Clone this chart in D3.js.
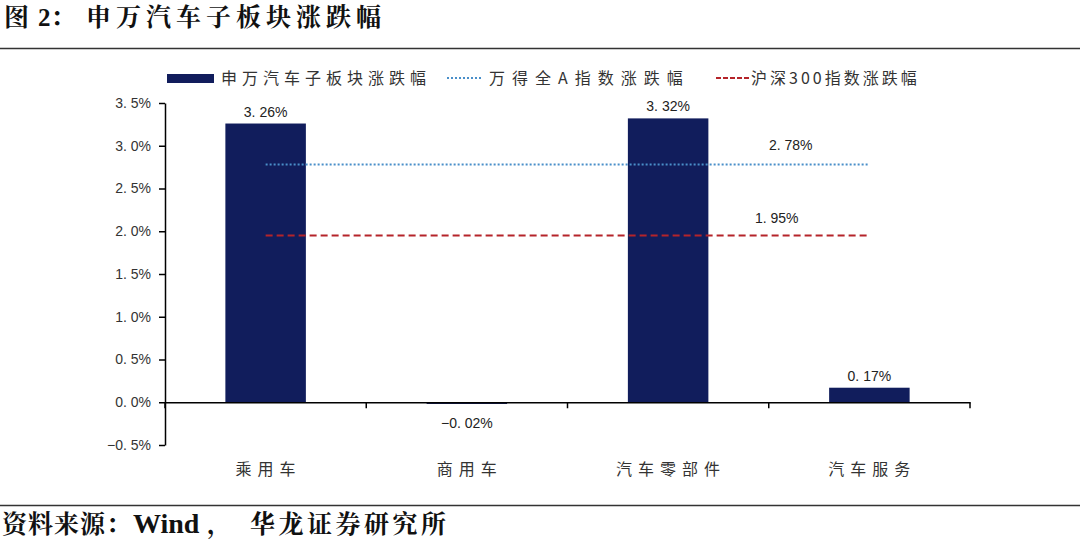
<!DOCTYPE html>
<html><head><meta charset="utf-8">
<script src="https://cdn.jsdelivr.net/npm/d3@7"></script>
<style>body{margin:0;background:#fff}svg{display:block}</style>
</head><body><svg id="c" width="1080" height="553"></svg>
<script>
const categories = ["乘用车","商用车","汽车零部件","汽车服务"];
const sectorValues = [3.26, -0.02, 3.32, 0.17];
const windA = 2.78;
const hs300 = 1.95;
const yTicks = [-0.5,0,0.5,1.0,1.5,2.0,2.5,3.0,3.5];
const seriesNames = ["申万汽车子板块涨跌幅","万得全A指数涨跌幅","沪深300指数涨跌幅"];

const svg = d3.select("#c");
const cjk = "'Noto Sans CJK SC', sans-serif";
const serif = "'Liberation Serif','Noto Serif CJK SC','Noto Sans CJK SC',serif";
const num = "'Liberation Sans',Arial,sans-serif";

// title
const t = svg.append("text").attr("y",26).attr("font-family",serif).attr("font-weight","bold")
  .attr("font-size",25).attr("fill","#111");
t.append("tspan").attr("x",4).text("图");
t.append("tspan").attr("x",38).text("2：");
t.append("tspan").attr("x",86).attr("letter-spacing",5).text("申万汽车子板块涨跌幅");
svg.append("line").attr("x1",0).attr("x2",1080).attr("y1",48.5).attr("y2",48.5).attr("stroke","#333").attr("stroke-width",1.5);
svg.append("line").attr("x1",0).attr("x2",1080).attr("y1",505.5).attr("y2",505.5).attr("stroke","#333").attr("stroke-width",1.5);
const s = svg.append("text").attr("y",533).attr("font-family",serif).attr("font-weight","bold").attr("fill","#111");
s.append("tspan").attr("x",2).attr("font-size",25).attr("letter-spacing",1).text("资料来源：");
s.append("tspan").attr("x",133).attr("font-size",28).text("Wind");
s.append("tspan").attr("x",207).attr("font-size",25).text("，");
s.append("tspan").attr("x",250).attr("font-size",25).attr("letter-spacing",3.5).text("华龙证券研究所");

const x0 = 165, x1 = 970;
const x = d3.scaleBand().domain(categories).range([x0,x1]).paddingInner(0.6).paddingOuter(0.3);
const xb = d3.scaleBand().domain(categories).range([x0,x1]);
const y = d3.scaleLinear().domain([-0.5,3.5]).range([445,103]);

const g = svg.append("g");
// bars
g.selectAll("rect.bar").data(categories).join("rect")
  .attr("x",d=>x(d)).attr("width",x.bandwidth())
  .attr("y",(d,i)=>y(Math.max(0,sectorValues[i])))
  .attr("height",(d,i)=>Math.max(1,Math.abs(y(sectorValues[i])-y(0))))
  .attr("fill","#111d5c");

// y axis
const yAxis = d3.axisLeft(y).tickValues(yTicks).tickSize(6).tickSizeOuter(0)
  .tickFormat(d=>{const s=d3.format(".1f")(Math.abs(d)).replace(".",". ");return (d<0?"−":"")+s+"%";});
const ya = svg.append("g").attr("transform",`translate(${x0},0)`).call(yAxis);
ya.select(".domain").attr("stroke","#000").attr("stroke-width",1.5);
ya.selectAll(".tick line").attr("stroke","#000").attr("stroke-width",1.5);
ya.selectAll(".tick text").attr("font-family",num).attr("font-size",14).attr("fill","#333").attr("x",-14);

// x axis at 0
const xAxis = d3.axisBottom(xb).tickSize(6).tickSizeOuter(0).tickFormat("");
const xa = svg.append("g").attr("transform",`translate(0,${y(0)})`).call(xAxis);
xa.select(".domain").attr("stroke","#000").attr("stroke-width",1.5);
xa.selectAll(".tick").remove();
const bounds = [x0, ...categories.map(c=>xb(c)+xb.bandwidth())];
xa.selectAll("line.bt").data(bounds).join("line").attr("class","bt")
  .attr("x1",d=>d).attr("x2",d=>d).attr("y1",0).attr("y2",6).attr("stroke","#000").attr("stroke-width",1.5);
// category labels
svg.selectAll("text.cat").data(categories).join("text").attr("class","cat")
  .attr("x",d=>xb(d)+xb.bandwidth()/2+3).attr("y",475).attr("text-anchor","middle")
  .attr("font-family",cjk).attr("font-size",16).attr("fill","#333").attr("letter-spacing",6).text(d=>d);

// value labels
svg.selectAll("text.val").data(categories).join("text").attr("class","val")
  .attr("x",d=>x(d)+x.bandwidth()/2)
  .attr("y",(d,i)=>sectorValues[i]>=0? y(sectorValues[i])-7 : y(sectorValues[i])+24)
  .attr("text-anchor","middle").attr("font-family",num).attr("font-size",14).attr("fill","#222")
  .text((d,i)=>d3.format(".2f")(sectorValues[i]).replace("-","−").replace(".",". ")+"%");

// reference lines
const lx1 = x(categories[0])+x.bandwidth()/2, lx2 = x(categories[3])+x.bandwidth()/2;
svg.append("line").attr("x1",lx1).attr("x2",lx2).attr("y1",y(windA)).attr("y2",y(windA))
  .attr("stroke","#4a8fc9").attr("stroke-width",2).attr("stroke-dasharray","2,2");
svg.append("line").attr("x1",lx1).attr("x2",lx2).attr("y1",y(hs300)).attr("y2",y(hs300))
  .attr("stroke","#b5242a").attr("stroke-width",2).attr("stroke-dasharray","7,4");
svg.append("text").attr("x",xb(categories[3])+22).attr("y",y(windA)-15).attr("text-anchor","middle")
  .attr("font-family",num).attr("font-size",14).attr("fill","#222").text(d3.format(".2f")(windA).replace(".",". ")+"%");
svg.append("text").attr("x",xb(categories[3])+8).attr("y",y(hs300)-13).attr("text-anchor","middle")
  .attr("font-family",num).attr("font-size",14).attr("fill","#222").text(d3.format(".2f")(hs300).replace(".",". ")+"%");

// legend
const ly = 78;
svg.append("rect").attr("x",167).attr("y",ly-4).attr("width",47).attr("height",9).attr("fill","#111d5c");
svg.append("text").attr("x",221).attr("y",ly+6).attr("font-family",cjk).attr("font-size",16).attr("fill","#333").attr("letter-spacing",5).text(seriesNames[0]);
svg.append("line").attr("x1",447).attr("x2",481).attr("y1",ly).attr("y2",ly).attr("stroke","#4a8fc9").attr("stroke-width",2).attr("stroke-dasharray","2,2");
svg.append("text").attr("x",489).attr("y",ly+6).attr("font-family",cjk).attr("font-size",16).attr("fill","#333").attr("letter-spacing",7).text(seriesNames[1]);
svg.append("line").attr("x1",716).attr("x2",749).attr("y1",ly).attr("y2",ly).attr("stroke","#b5242a").attr("stroke-width",2).attr("stroke-dasharray","5,2");
svg.append("text").attr("x",751).attr("y",ly+6).attr("font-family",cjk).attr("font-size",16).attr("fill","#333").attr("letter-spacing",3).text(seriesNames[2]);
</script></body></html>
